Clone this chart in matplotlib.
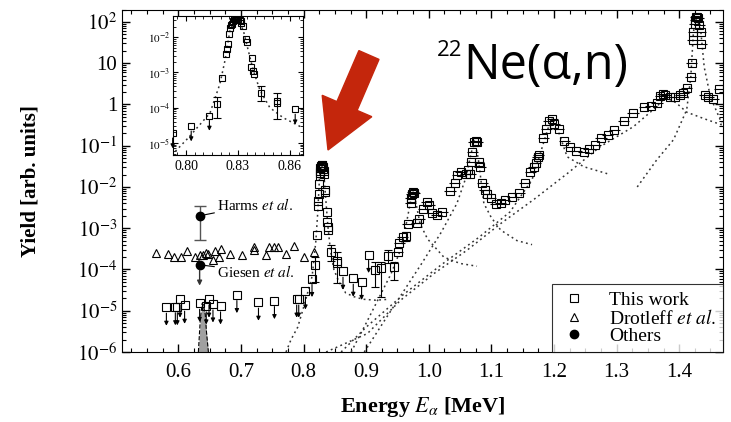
import matplotlib
matplotlib.use('Agg')
import matplotlib.pyplot as plt
from matplotlib.ticker import MultipleLocator, FixedLocator, FixedFormatter, FormatStrFormatter, LogLocator, NullFormatter
from matplotlib.patches import Polygon

plt.rcParams['font.family'] = ['Liberation Serif', 'DejaVu Serif']
plt.rcParams['mathtext.fontset'] = 'stix'

# ---- data ----
# this work, plain points
tw_E = [0.821, 0.8229, 0.8238, 0.8242, 0.825, 0.8255, 0.826, 0.8264, 0.827, 0.8275, 0.8283, 0.829,
        0.8295, 0.8302, 0.831, 0.8315, 0.832, 0.8327, 0.8346, 0.835, 0.8373, 0.8379, 0.8385, 0.8394,
        0.8527, 0.9501, 0.9527, 0.9581, 0.967, 0.9713, 0.9713, 0.973, 0.975, 0.977, 0.981, 0.9845,
        0.9915, 0.9968, 1.0005, 1.0058, 1.0127, 1.0218, 1.034, 1.0414, 1.0457, 1.051, 1.059, 1.062,
        1.066, 1.068, 1.0696, 1.0722, 1.075, 1.077, 1.080, 1.0818, 1.0856, 1.0897, 1.0935, 1.0988,
        1.1068, 1.1147, 1.1211, 1.1334, 1.144, 1.153, 1.1625, 1.168, 1.1705, 1.174, 1.1758, 1.1828,
        1.188, 1.1917, 1.1971, 1.2008, 1.2076, 1.2167, 1.2263, 1.2359, 1.2475, 1.2555, 1.2661, 1.2752,
        1.2858, 1.2964, 1.3113, 1.3263, 1.3443, 1.355, 1.3645, 1.3697, 1.3737, 1.3777, 1.3857, 1.3936,
        1.4016, 1.4069, 1.4122, 1.4186, 1.4202, 1.4218, 1.4228, 1.4245, 1.4255, 1.427, 1.4282, 1.430,
        1.4323, 1.4346, 1.4351, 1.4414, 1.4467, 1.4547, 1.4643]
tw_Y = [6.9e-4, 3.4e-3, 4.5e-3, 6.6e-3, 1.2e-2, 1.8e-2, 2.2e-2, 2.4e-2, 2.9e-2, 3.3e-2, 3.1e-2, 3.4e-2,
        3.4e-2, 3.2e-2, 3.0e-2, 2.8e-2, 2.5e-2, 2.1e-2, 8.6e-3, 7.5e-3, 1.4e-3, 2.5e-3, 1.1e-3, 9.2e-4,
        1.6e-4, 2.7e-4, 4.5e-4, 6.2e-4, 1.3e-3, 4.0e-3, 5.3e-3, 6.8e-3, 7.7e-3, 7.2e-3, 1.36e-3, 1.7e-3,
        2.9e-3, 4.4e-3, 3.7e-3, 2.3e-3, 2.1e-3, 2.5e-3, 8.1e-3, 1.27e-2, 1.95e-2, 2.35e-2, 2.07e-2, 2.6e-2,
        2.07e-2, 4.1e-2, 7.2e-2, 0.125, 0.133, 0.12, 4.1e-2, 3.1e-2, 1.23e-2, 8.5e-3, 6.8e-3, 5.3e-3,
        3.9e-3, 4.0e-3, 4.8e-3, 5.6e-3, 7.0e-3, 1.27e-2, 2.35e-2, 3.1e-2, 3.9e-2, 5.2e-2, 6e-2, 0.15,
        0.25, 0.40, 0.44, 0.34, 0.25, 0.133, 0.092, 0.076, 0.072, 0.082, 0.104, 0.15,
        0.18, 0.24, 0.40, 0.61, 0.89, 0.92, 1.07, 1.6, 1.75, 1.7, 1.55, 1.5,
        1.7, 1.86, 2.46, 4.7, 10.3, 36.7, 58, 90, 112, 130, 135, 125,
        85, 58, 29, 1.7, 1.5, 1.34, 2.35]

# this work, upper limits
ul_E = [0.5809, 0.5952, 0.5984, 0.6027, 0.610, 0.634, 0.6446, 0.649, 0.6553, 0.6674, 0.6935, 0.728,
        0.7535, 0.789, 0.7923, 0.803, 0.8135, 0.863, 0.8794, 0.8927, 0.9039]
ul_Y = [1.21e-5, 1.24e-5, 1.24e-5, 1.9e-5, 1.35e-5, 1.5e-5, 1.3e-5, 1.9e-5, 1.45e-5, 1.3e-5, 2.45e-5, 1.6e-5,
        1.75e-5, 1.9e-5, 1.9e-5, 3e-5, 6e-5, 9e-5, 6.1e-5, 5.1e-5, 2.3e-4]

# this work, with error bars
eb_E = [0.818, 0.8431, 0.8527, 0.914, 0.9235, 0.9342, 0.9437, 0.9634]
eb_Y = [1.3e-4, 2.7e-4, 1.4e-4, 9.8e-5, 1.07e-4, 2.1e-4, 1.13e-4, 6.5e-4]
eb_lo = [5.1e-5, 1.6e-4, 4.8e-5, 3.8e-5, 2.2e-5, 1.4e-4, 5.6e-5, 5e-4]
eb_hi = [2.0e-4, 4.0e-4, 2.6e-4, 1.55e-4, 1.55e-4, 2.9e-4, 1.55e-4, 8e-4]

# Drotleff et al.
dr_E = [0.5638, 0.5836, 0.5931, 0.6048, 0.6143, 0.6271, 0.634, 0.6394, 0.6446, 0.6473, 0.6553, 0.6578,
        0.6642, 0.6674, 0.6818, 0.7015, 0.7206, 0.7216, 0.7402, 0.7455, 0.7525, 0.7598, 0.7721, 0.7853,
        0.8003, 0.8163]
dr_Y = [2.55e-4, 2.38e-4, 2.04e-4, 1.98e-4, 2.86e-4, 2.04e-4, 2.21e-4, 2.21e-4, 2.55e-4, 2.38e-4, 1.7e-4, 2.86e-4,
        1.98e-4, 3.09e-4, 2.38e-4, 2.29e-4, 3.45e-4, 2.97e-4, 2.25e-4, 3.45e-4, 3.45e-4, 3.45e-4, 2.38e-4, 3.72e-4,
        1.98e-4, 2.7e-4]

# others
harms_E, harms_Y, harms_lo, harms_hi = 0.634, 2.0e-3, 5.2e-4, 3.5e-3
giesen_E, giesen_Y = 0.634, 1.3e-4

# grey peak
grey_E = [0.632, 0.635, 0.638, 0.640, 0.643, 0.645, 0.648]
grey_Y = [1e-6, 6e-6, 1.5e-5, 1.4e-5, 8e-6, 3e-6, 1e-6]

# dotted resonance curves
curves = [
    ([0.772, 0.780, 0.7907, 0.8013, 0.8138, 0.8196, 0.8225, 0.8254, 0.8292, 0.833, 0.8354, 0.8388,
      0.8427, 0.8484, 0.8561, 0.8673, 0.880, 0.895, 0.915, 0.937],
     [1e-6, 2e-6, 4e-6, 1.4e-5, 7e-5, 4.8e-4, 2.2e-3, 1.6e-2, 3.4e-2, 1.6e-2, 5.3e-3, 1.15e-3,
      3.1e-4, 1.0e-4, 5.2e-5, 2.7e-5, 2.2e-5, 1.9e-5, 1.8e-5, 1.9e-5]),
    ([0.876, 0.90, 0.92, 0.94, 0.955, 0.965, 0.971, 0.975, 0.979, 0.986, 0.998, 1.024, 1.05, 1.077],
     [1e-6, 5e-6, 2e-5, 8e-5, 3e-4, 1.5e-3, 4.5e-3, 7.5e-3, 4.5e-3, 1.3e-3, 5.5e-4, 2.0e-4, 1.4e-4, 1.2e-4]),
    ([0.897, 0.93, 0.96, 0.99, 1.02, 1.045, 1.060, 1.067, 1.073, 1.079, 1.088, 1.100, 1.115, 1.141, 1.165],
     [1e-6, 6e-6, 3e-5, 1.5e-4, 8e-4, 4e-3, 1.8e-2, 6e-2, 0.13, 5e-2, 4e-3, 1.8e-3, 9e-4, 5e-4, 4e-4]),
    ([0.86, 0.90, 0.96, 1.02, 1.08, 1.13, 1.165, 1.18, 1.19, 1.197, 1.208, 1.221, 1.2475, 1.285],
     [1e-6, 4e-6, 2.5e-5, 1.3e-4, 6e-4, 2.5e-3, 1.5e-2, 0.08, 0.25, 0.44, 0.2, 5.4e-2, 3.1e-2, 2.1e-2]),
    ([0.836, 0.902, 0.955, 1.0085, 1.062, 1.115, 1.168, 1.221, 1.274, 1.327, 1.364, 1.378, 1.395,
      1.412, 1.44, 1.468],
     [1e-6, 2.8e-6, 1.8e-5, 8e-5, 3e-4, 1.3e-3, 5e-3, 2.1e-2, 9.5e-2, 0.29, 0.88, 1.5, 1.1,
      0.65, 0.45, 0.32]),
    ([1.333, 1.364, 1.391, 1.412, 1.4186, 1.4228, 1.428, 1.4346, 1.44, 1.45, 1.468],
     [1e-2, 4.5e-2, 0.14, 0.74, 4.7, 58, 135, 58, 8, 1.5, 0.35]),
]

ytick_vals = [1e-6, 1e-5, 1e-4, 1e-3, 1e-2, 1e-1, 1, 10, 100]
ytick_labels = [r'$10^{-6}$', r'$10^{-5}$', r'$10^{-4}$', r'$10^{-3}$', r'$10^{-2}$', r'$10^{-1}$', '1', '10', r'$10^{2}$']
inset_xticks = [0.80, 0.83, 0.86]
inset_yticks = [1e-5, 1e-4, 1e-3, 1e-2]
inset_ylabels = [r'$10^{-5}$', r'$10^{-4}$', r'$10^{-3}$', r'$10^{-2}$']


def draw_data(a, ms, arrow_fac, xerr_on):
    for ce, cy in curves:
        a.plot(ce, cy, linestyle=(0, (1.2, 2.2)), color='#333333', lw=1.1)
    xe = [0.009 if (e >= 0.94 and xerr_on) else 0 for e in tw_E]
    a.errorbar(tw_E, tw_Y, xerr=xe, fmt='s', ms=ms, mfc='none', mec='k', mew=0.8,
               ecolor='k', elinewidth=0.8, capsize=0)
    a.plot(ul_E, ul_Y, 's', ms=ms, mfc='none', mec='k', mew=0.8)
    for e, y in zip(ul_E, ul_Y):
        a.annotate('', xy=(e, y / arrow_fac), xytext=(e, y),
                   arrowprops=dict(arrowstyle='-|>', color='k', lw=0.8, mutation_scale=6,
                                   shrinkA=ms * 0.7, shrinkB=0))
    lo = [y - l for y, l in zip(eb_Y, eb_lo)]
    hi = [h - y for y, h in zip(eb_Y, eb_hi)]
    a.errorbar(eb_E, eb_Y, yerr=[lo, hi], fmt='s', ms=ms, mfc='none', mec='k', mew=0.8,
               ecolor='k', elinewidth=0.8, capsize=3)


fig = plt.figure(figsize=(7.31, 4.22), dpi=100)
ax = fig.add_axes([122 / 731, 70 / 422, 601 / 731, 342.5 / 422])
ax.set_yscale('log')
ax.set_xlim(0.51, 1.47)
ax.set_ylim(1e-6, 200)

ax.fill_between(grey_E, grey_Y, 1e-6, color='#a0a0a0', lw=0)
ax.plot(grey_E, grey_Y, '--', color='k', lw=0.8)

draw_data(ax, 6, 2.8, True)

ax.plot(dr_E, dr_Y, '^', ms=6, mfc='none', mec='k', mew=0.8)

ax.errorbar([harms_E], [harms_Y], yerr=[[harms_Y - harms_lo], [harms_hi - harms_Y]], fmt='o', ms=6,
            color='k', ecolor='#555555', elinewidth=1, capsize=4)
ax.plot([giesen_E], [giesen_Y], 'o', ms=6, color='k')
ax.annotate('', xy=(giesen_E, giesen_Y / 3.2), xytext=(giesen_E, giesen_Y),
            arrowprops=dict(arrowstyle='-|>', color='#333333', lw=1, mutation_scale=7, shrinkA=4, shrinkB=0))
ax.annotate(r'Harms $et\ al.$', xy=(harms_E, harms_Y), xytext=(0.662, 3.7e-3), fontsize=11,
            va='center', arrowprops=dict(arrowstyle='-', color='k', lw=0.8, shrinkA=0, shrinkB=4))
ax.annotate(r'Giesen $et\ al.$', xy=(giesen_E, giesen_Y), xytext=(0.662, 8.7e-5), fontsize=11,
            va='center', arrowprops=dict(arrowstyle='-', color='k', lw=0.8, shrinkA=0, shrinkB=4))

ax.yaxis.set_major_locator(FixedLocator(ytick_vals))
ax.yaxis.set_major_formatter(FixedFormatter(ytick_labels))
ax.yaxis.set_minor_locator(LogLocator(base=10, subs=range(2, 10), numticks=20))
ax.yaxis.set_minor_formatter(NullFormatter())
ax.xaxis.set_major_locator(MultipleLocator(0.1))
ax.xaxis.set_minor_locator(MultipleLocator(0.025))
ax.xaxis.set_major_formatter(FormatStrFormatter('%.1f'))
ax.tick_params(which='both', direction='in', top=True, right=True, labelsize=15)
ax.tick_params(which='major', length=6, width=1)
ax.tick_params(which='minor', length=3, width=0.8)
ax.tick_params(axis='x', pad=8)
ax.set_xlabel(r'Energy $E_\alpha$ [MeV]', fontsize=16, fontweight='bold')
ax.set_ylabel('Yield [arb. units]', fontsize=15, fontweight='bold')
ax.xaxis.set_label_coords(0.5, -0.125)
ax.yaxis.set_label_coords(-0.135, 0.5)

# legend
hw, = ax.plot([], [], 's', ms=6, mfc='none', mec='k', mew=0.8)
hd, = ax.plot([], [], '^', ms=6, mfc='none', mec='k', mew=0.8)
ho, = ax.plot([], [], 'o', ms=6, color='k')
leg = ax.legend([hw, hd, ho], ['This work', r'Drotleff $et\ al.$', 'Others'], loc='lower right',
                bbox_to_anchor=(1, 0), borderaxespad=0, fontsize=14, fancybox=False, edgecolor='k',
                handletextpad=1.0, borderpad=0.35, labelspacing=0.0, handlelength=1.6)
leg.get_frame().set_linewidth(0.8)

# inset
axi = fig.add_axes([173 / 731, 1 - 155 / 422, 130 / 731, 139 / 422])
axi.set_yscale('log')
axi.set_xlim(0.7925, 0.8675)
axi.set_ylim(10 ** -5.34, 10 ** -1.4)
draw_data(axi, 5, 2.7, False)
axi.yaxis.set_major_locator(FixedLocator(inset_yticks))
axi.yaxis.set_major_formatter(FixedFormatter(inset_ylabels))
axi.yaxis.set_minor_locator(LogLocator(base=10, subs=range(2, 10), numticks=20))
axi.yaxis.set_minor_formatter(NullFormatter())
axi.xaxis.set_major_locator(FixedLocator(inset_xticks))
axi.xaxis.set_minor_locator(MultipleLocator(0.005))
axi.xaxis.set_major_formatter(FormatStrFormatter('%.2f'))
axi.tick_params(which='both', direction='in', top=True, right=True)
axi.tick_params(axis='x', labelsize=10)
axi.tick_params(axis='y', labelsize=8, pad=2)
axi.tick_params(which='minor', length=2)

# title text and red arrow
fig.text(437 / 731, 1 - 50 / 422, '22', fontsize=16, family=['Open Sans', 'DejaVu Sans'], va='center')
fig.text(463 / 731, 1 - 66 / 422, 'Ne(α,n)', fontsize=35, family=['Open Sans', 'DejaVu Sans'], va='center')
arrow_px = [(358.9, 50.6), (379.0, 59.4), (357.1, 110.4), (371.8, 116.7), (328, 150),
            (322.2, 95.3), (336.9, 101.6)]
fig.patches.append(Polygon([(x / 731, 1 - y / 422) for x, y in arrow_px], closed=True,
                           transform=fig.transFigure, color='#c4260c', zorder=10))

fig.savefig('out.png', dpi=100)
